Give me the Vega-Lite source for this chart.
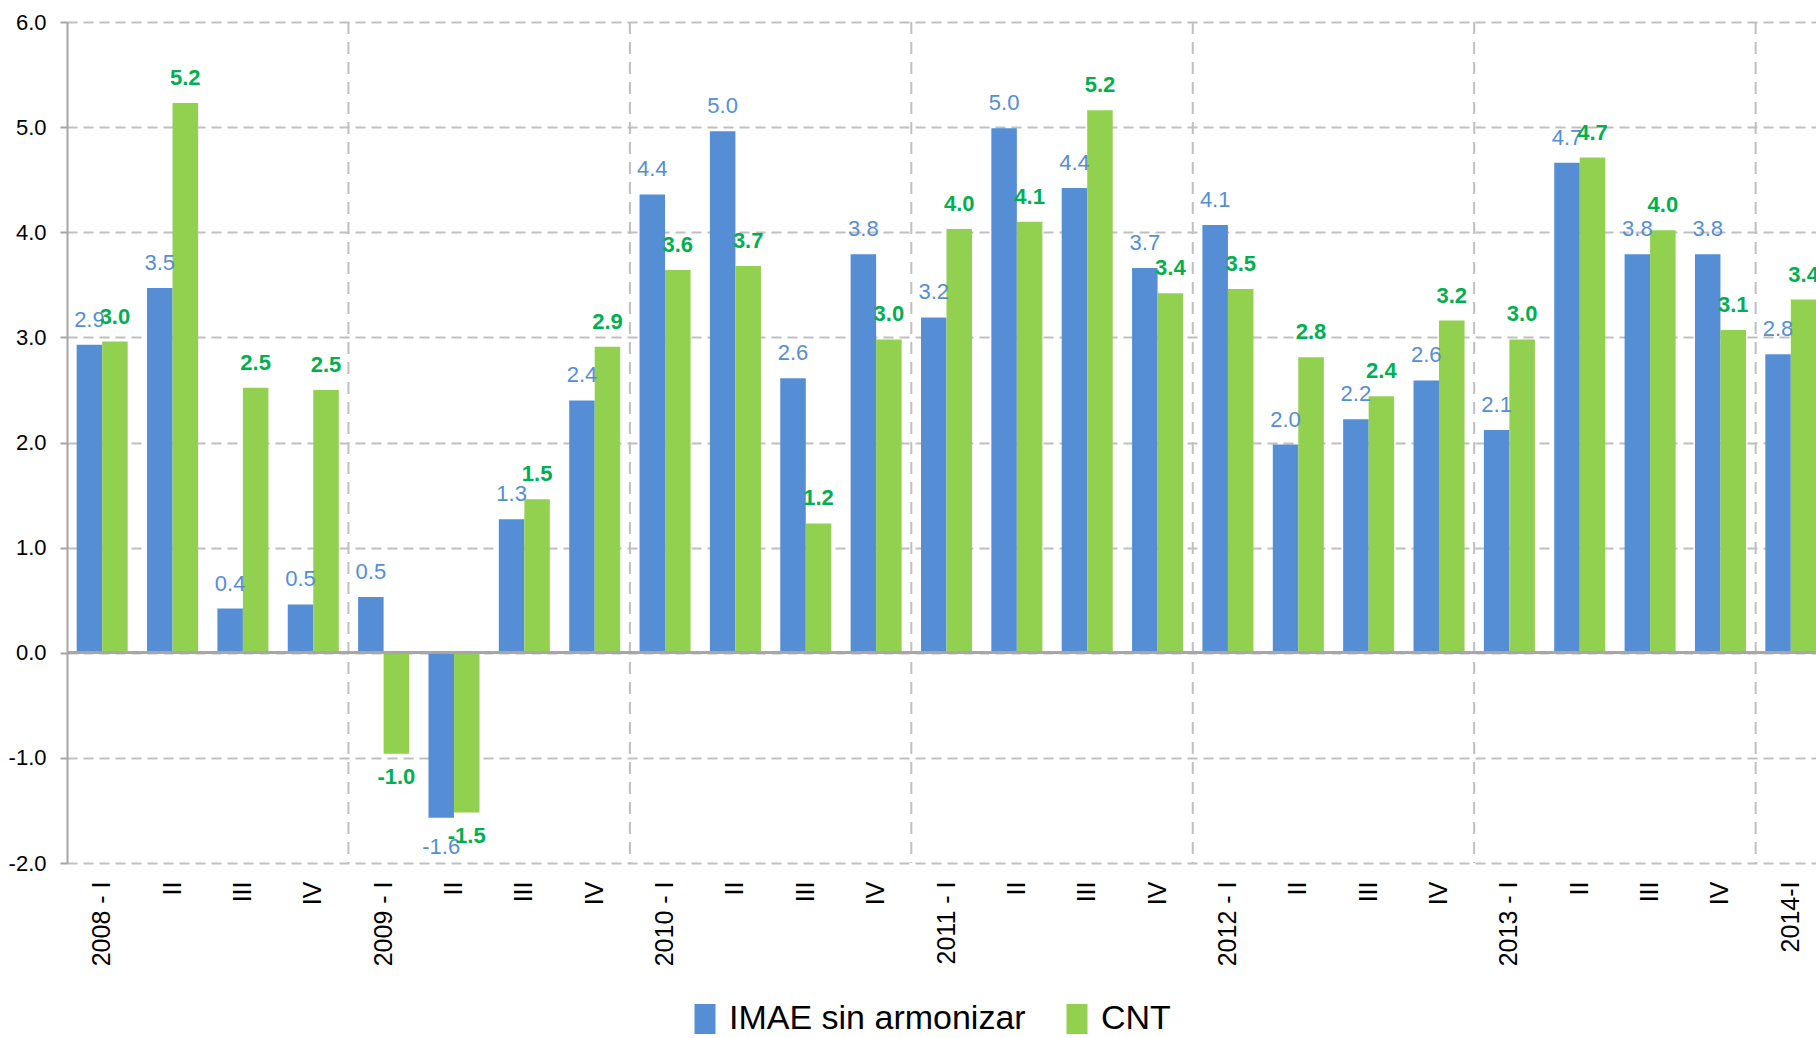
{
  "$schema": "https://vega.github.io/schema/vega-lite/v6.json",
  "width": 1749,
  "height": 841,
  "autosize": {"type": "none"},
  "padding": {"left": 67, "top": 22, "right": 0, "bottom": 175},
  "config": {
    "locale": {"number": {"decimal": ".", "thousands": ",", "grouping": [3], "currency": ["$", ""], "minus": "-"}},
    "view": {"stroke": null},
    "font": "Liberation Sans, Arial, sans-serif"
  },
  "datasets": {
    "main": [
      {"q": "2008 - I", "s": "IMAE sin armonizar", "v": 2.93}, {"q": "2008 - I", "s": "CNT", "v": 2.96},
      {"q": "2008 II", "s": "IMAE sin armonizar", "v": 3.47}, {"q": "2008 II", "s": "CNT", "v": 5.23},
      {"q": "2008 III", "s": "IMAE sin armonizar", "v": 0.42}, {"q": "2008 III", "s": "CNT", "v": 2.52},
      {"q": "2008 IV", "s": "IMAE sin armonizar", "v": 0.46}, {"q": "2008 IV", "s": "CNT", "v": 2.5},
      {"q": "2009 - I", "s": "IMAE sin armonizar", "v": 0.53}, {"q": "2009 - I", "s": "CNT", "v": -0.96},
      {"q": "2009 II", "s": "IMAE sin armonizar", "v": -1.57}, {"q": "2009 II", "s": "CNT", "v": -1.52},
      {"q": "2009 III", "s": "IMAE sin armonizar", "v": 1.27}, {"q": "2009 III", "s": "CNT", "v": 1.46},
      {"q": "2009 IV", "s": "IMAE sin armonizar", "v": 2.4}, {"q": "2009 IV", "s": "CNT", "v": 2.91},
      {"q": "2010 - I", "s": "IMAE sin armonizar", "v": 4.36}, {"q": "2010 - I", "s": "CNT", "v": 3.64},
      {"q": "2010 II", "s": "IMAE sin armonizar", "v": 4.96}, {"q": "2010 II", "s": "CNT", "v": 3.68},
      {"q": "2010 III", "s": "IMAE sin armonizar", "v": 2.61}, {"q": "2010 III", "s": "CNT", "v": 1.23},
      {"q": "2010 IV", "s": "IMAE sin armonizar", "v": 3.79}, {"q": "2010 IV", "s": "CNT", "v": 2.98},
      {"q": "2011 - I", "s": "IMAE sin armonizar", "v": 3.19}, {"q": "2011 - I", "s": "CNT", "v": 4.03},
      {"q": "2011 II", "s": "IMAE sin armonizar", "v": 4.99}, {"q": "2011 II", "s": "CNT", "v": 4.1},
      {"q": "2011 III", "s": "IMAE sin armonizar", "v": 4.42}, {"q": "2011 III", "s": "CNT", "v": 5.16},
      {"q": "2011 IV", "s": "IMAE sin armonizar", "v": 3.66}, {"q": "2011 IV", "s": "CNT", "v": 3.42},
      {"q": "2012 - I", "s": "IMAE sin armonizar", "v": 4.07}, {"q": "2012 - I", "s": "CNT", "v": 3.46},
      {"q": "2012 II", "s": "IMAE sin armonizar", "v": 1.98}, {"q": "2012 II", "s": "CNT", "v": 2.81},
      {"q": "2012 III", "s": "IMAE sin armonizar", "v": 2.22}, {"q": "2012 III", "s": "CNT", "v": 2.44},
      {"q": "2012 IV", "s": "IMAE sin armonizar", "v": 2.59}, {"q": "2012 IV", "s": "CNT", "v": 3.16},
      {"q": "2013 - I", "s": "IMAE sin armonizar", "v": 2.12}, {"q": "2013 - I", "s": "CNT", "v": 2.98},
      {"q": "2013 II", "s": "IMAE sin armonizar", "v": 4.66}, {"q": "2013 II", "s": "CNT", "v": 4.71},
      {"q": "2013 III", "s": "IMAE sin armonizar", "v": 3.79}, {"q": "2013 III", "s": "CNT", "v": 4.02},
      {"q": "2013 IV", "s": "IMAE sin armonizar", "v": 3.79}, {"q": "2013 IV", "s": "CNT", "v": 3.07},
      {"q": "2014-I", "s": "IMAE sin armonizar", "v": 2.84}, {"q": "2014-I", "s": "CNT", "v": 3.36}
    ],
    "years": [
      {"q": "2009 - I"}, {"q": "2010 - I"}, {"q": "2011 - I"}, {"q": "2012 - I"}, {"q": "2013 - I"}, {"q": "2014-I"}
    ]
  },
  "layer": [
    {
      "data": {"name": "years"},
      "mark": {"type": "rule", "stroke": "#BFBFBF", "strokeWidth": 2, "strokeDash": [12, 8]},
      "encoding": {
        "x": {"field": "q", "type": "nominal", "bandPosition": 0,
          "scale": {"domain": ["2008 - I","2008 II","2008 III","2008 IV","2009 - I","2009 II","2009 III","2009 IV","2010 - I","2010 II","2010 III","2010 IV","2011 - I","2011 II","2011 III","2011 IV","2012 - I","2012 II","2012 III","2012 IV","2013 - I","2013 II","2013 III","2013 IV","2014-I"], "range": [0, 1759], "paddingInner": 0, "paddingOuter": 0},
          "axis": {"title": null, "labelAngle": -90, "labelExpr": "(substring(datum.value, 4, 5) == ' ' && substring(datum.value, 5, 6) != '-') ? substring(datum.value, 5) : datum.value", "domain": false, "ticks": false, "grid": false, "labelPadding": 18, "labelFontSize": 25, "labelFont": "Liberation Sans, Arial, sans-serif", "labelColor": "#000000", "labelOverlap": false}}
      }
    },
    {
      "data": {"name": "main"},
      "encoding": {
        "x": {"field": "q", "type": "nominal",
          "scale": {"domain": ["2008 - I","2008 II","2008 III","2008 IV","2009 - I","2009 II","2009 III","2009 IV","2010 - I","2010 II","2010 III","2010 IV","2011 - I","2011 II","2011 III","2011 IV","2012 - I","2012 II","2012 III","2012 IV","2013 - I","2013 II","2013 III","2013 IV","2014-I"], "range": [0, 1759], "paddingInner": 0, "paddingOuter": 0},
          "axis": {"title": null, "labelAngle": -90, "labelExpr": "(substring(datum.value, 4, 5) == ' ' && substring(datum.value, 5, 6) != '-') ? substring(datum.value, 5) : datum.value", "domain": false, "ticks": false, "grid": false, "labelPadding": 18, "labelFontSize": 25, "labelFont": "Liberation Sans, Arial, sans-serif", "labelColor": "#000000", "labelOverlap": false}},
        "xOffset": {"field": "s", "type": "nominal", "scale": {"domain": ["IMAE sin armonizar", "CNT"], "paddingOuter": 0.379, "paddingInner": 0}},
        "y": {"field": "v", "type": "quantitative", "scale": {"domain": [-2, 6], "nice": false, "zero": false},
          "axis": {"title": null, "values": [-2, -1, 0, 1, 2, 3, 4, 5, 6], "format": ".1f", "grid": true, "gridColor": "#BFBFBF", "gridDash": [10, 6], "gridWidth": 2, "domainColor": "#A6A6A6", "domainWidth": 2, "tickColor": "#A6A6A6", "tickSize": 7, "tickWidth": 2, "labelPadding": 14, "labelFontSize": 22, "labelColor": "#000000"}}
      },
      "layer": [
        {
          "mark": {"type": "bar"},
          "encoding": {
            "color": {"field": "s", "type": "nominal", "scale": {"domain": ["IMAE sin armonizar", "CNT"], "range": ["#558ED5", "#92D050"]},
              "legend": {"title": null, "orient": "none", "legendX": 621, "legendY": 980, "direction": "horizontal", "padding": 0, "labelFontSize": 34, "labelLimit": 0, "labelColor": "#000000", "symbolType": "M-0.7,-1L0.7,-1L0.7,1L-0.7,1Z", "symbolSize": 900, "symbolStrokeWidth": 0, "labelOffset": 7, "columnPadding": 34}}
          }
        },
        {
          "transform": [{"filter": "datum.s == 'IMAE sin armonizar' && datum.v >= 0"}],
          "mark": {"type": "text", "fontSize": 22, "color": "#558ED5", "baseline": "alphabetic", "dy": -18},
          "encoding": {"text": {"field": "v", "type": "quantitative", "format": ".1f"}}
        },
        {
          "transform": [{"filter": "datum.s == 'IMAE sin armonizar' && datum.v < 0"}],
          "mark": {"type": "text", "fontSize": 22, "color": "#558ED5", "baseline": "top", "dy": 19},
          "encoding": {"text": {"field": "v", "type": "quantitative", "format": ".1f"}}
        },
        {
          "transform": [{"filter": "datum.s == 'CNT' && datum.v >= 0"}],
          "mark": {"type": "text", "fontSize": 22, "fontWeight": "bold", "color": "#00B050", "baseline": "alphabetic", "dy": -18},
          "encoding": {"text": {"field": "v", "type": "quantitative", "format": ".1f"}}
        },
        {
          "transform": [{"filter": "datum.s == 'CNT' && datum.v < 0"}],
          "mark": {"type": "text", "fontSize": 22, "fontWeight": "bold", "color": "#00B050", "baseline": "top", "dy": 13},
          "encoding": {"text": {"field": "v", "type": "quantitative", "format": ".1f"}}
        }
      ]
    },
    {
      "data": {"name": "main"},
      "mark": {"type": "rule", "stroke": "#A6A6A6", "strokeWidth": 2},
      "encoding": {"y": {"datum": 0}}
    }
  ]
}
